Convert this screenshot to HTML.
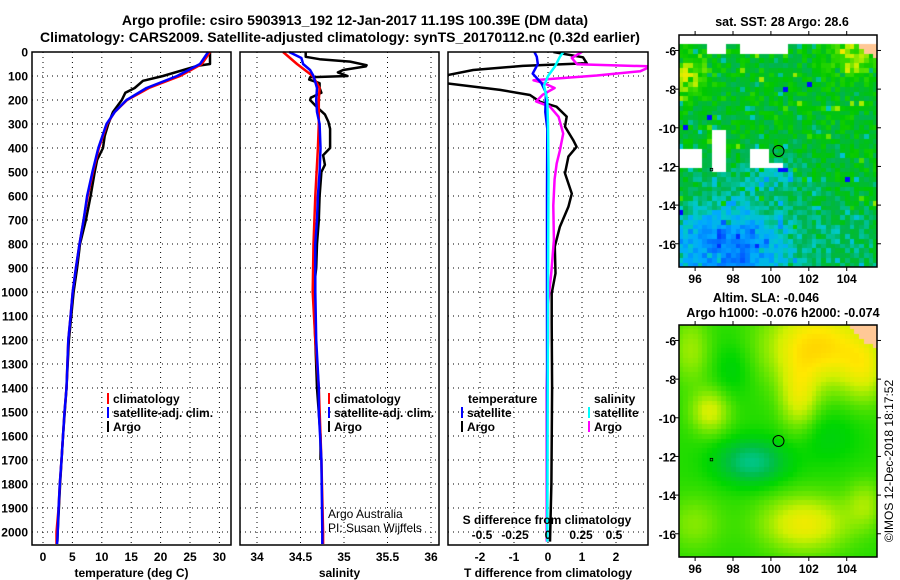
<!DOCTYPE html>
<html><head><meta charset="utf-8">
<style>
body{margin:0;background:#fff;}
#wrap{position:relative;width:900px;height:580px;overflow:hidden;font-family:"Liberation Sans",sans-serif;}
svg text{font-family:"Liberation Sans",sans-serif;}
canvas{position:absolute;}
</style></head>
<body>
<div id="wrap">
<canvas id="sst" width="198" height="232" style="left:679px;top:35px"></canvas>
<canvas id="sla" width="198" height="232" style="left:679px;top:325px"></canvas>
<svg id="svg" width="900" height="580" style="position:absolute;left:0;top:0"></svg>
</div>
<script>
// ---------- DATA ----------
const tempDepthSat=[0,50,100,150,200,250,300,400,500,600,700,800,900,1000,1100,1200,1400,1500,1600,1700,1800,1900,2000,2050];
const tempSat=[28.1,26.7,22.8,17.6,14.2,12.2,10.8,9.4,8.4,7.5,6.9,6.2,5.6,5.05,4.7,4.3,4.0,3.65,3.4,3.15,2.86,2.65,2.5,2.4];
const tempClim=[28.4,27.0,23.3,18.0,14.3,12.2,10.9,9.5,8.5,7.6,6.9,6.2,5.6,5.05,4.7,4.3,4.0,3.65,3.4,3.15,2.86,2.65,2.3,2.3];
const tempDepthArgo=[0,50,58,100,120,150,170,200,250,300,350,400,450,500,600,700,800,900,1000,1200,1400,1600,1800,2000,2040];
const tempArgo=[28.4,28.4,26.2,20.4,17.0,15.6,14.0,13.4,11.9,11.1,10.5,10.2,9.2,8.8,8.1,7.3,6.3,5.8,5.2,4.4,4.0,3.4,2.9,2.5,2.45];

const salDepthSat=[0,25,50,75,100,150,200,250,300,400,500,600,700,800,1000,1200,1400,1500,1700,2000,2050];
const salSat=[34.37,34.51,34.53,34.61,34.65,34.69,34.68,34.69,34.72,34.73,34.72,34.70,34.69,34.67,34.67,34.68,34.71,34.71,34.74,34.75,34.75];
const salDepthClim=[0,50,100,150,200,300,400,600,800,1000,1200,1400,1700,2000,2050];
const salClim=[34.30,34.46,34.64,34.72,34.71,34.71,34.70,34.67,34.65,34.64,34.67,34.71,34.74,34.76,34.76];
const salDepthArgo=[0,20,30,40,55,60,75,85,100,105,115,130,150,170,190,200,230,260,290,320,400,430,470,500,600,700,800,900,1000,1200,1400,1600,1700];
const salArgo=[34.56,34.56,34.72,35.07,35.26,35.25,34.99,34.93,35.04,34.61,34.60,34.72,34.72,34.74,34.62,34.61,34.69,34.78,34.82,34.84,34.84,34.76,34.78,34.74,34.72,34.71,34.69,34.68,34.65,34.67,34.69,34.73,34.73];

const dTDepthArgo=[0,22,47,58,75,103,130,158,179,207,228,269,311,367,395,436,506,590,645,728,811,922,1006,1131,1400,1800,2040];
const dTArgo=[0.16,1.03,1.14,-0.74,-2.2,-3.2,-3.0,-1.41,-0.53,-0.24,0.25,0.55,0.5,0.74,0.84,0.6,0.5,0.7,0.6,0.35,0.2,0.22,0.11,0.11,0.12,0.1,0.06];
const dTDepthSat=[0,20,50,90,130,170,250,320,600,1000,2040];
const dTSat=[-0.4,-0.33,-0.3,-0.45,-0.19,-0.06,-0.08,-0.02,-0.03,-0.03,-0.02];
const dSDepthSat=[0,20,60,100,140,200,300,500,1000,2040];
const dSSat=[0.116,0.09,0.053,0.0,-0.03,-0.005,0.0,0.004,0.0,-0.005];
const dSDepthArgo=[0,25,51,60,80,98,118,130,150,178,206,228,270,340,410,464,530,640,783,920,1050,1200,1400,2040];
const dSArgo=[0.255,0.18,0.22,0.78,0.7,0.37,-0.11,-0.03,0.05,-0.04,-0.09,0.015,0.08,0.115,0.09,0.066,0.05,0.04,0.045,0.025,0.0,0.0,-0.01,-0.01];

const depthTicks=[0,100,200,300,400,500,600,700,800,900,1000,1100,1200,1300,1400,1500,1600,1700,1800,1900,2000];
const tempTicks=[0,5,10,15,20,25,30];
const salTicks=[34,34.5,35,35.5,36];
const dTTicks=[-2,-1,0,1,2];
const dSTicks=[-0.5,-0.25,0,0.25,0.5];
const dSTickLabels=["-0.5","-0.25","0","0.25","0.5"];
const lonTicks=[96,98,100,102,104];
const latTicks=[-6,-8,-10,-12,-14,-16];
const argoLon=100.4, argoLat=-11.2;

// ---------- SCALES ----------
const yD=d=>52+d*0.24;
const xT=t=>43+t*5.88;
const xS=s=>257+(s-34)*87;
const xdT=v=>548+v*34;
const xdS=v=>548+v*132;
const P1={l:32,r:231},P2={l:240,r:439},P3={l:448,r:648};
const PT=52,PB=545;
const mapX=lon=>(lon-95.15)*18.95;
const mapY=lat=>(-5.2-lat)*19.33;

const NS="http://www.w3.org/2000/svg";
const svg=document.getElementById('svg');
function el(tag,attrs,parent){const e=document.createElementNS(NS,tag);for(const k in attrs)e.setAttribute(k,attrs[k]);(parent||svg).appendChild(e);return e;}
function txt(s,x,y,opt,parent){const e=el('text',Object.assign({x:x,y:y,'font-size':12,'font-weight':'bold',fill:'#000'},opt||{}),parent);e.textContent=s;return e;}

const defs=el('defs',{});
const cp=el('clipPath',{id:'c3'},defs);
el('rect',{x:P3.l,y:PT,width:P3.r-P3.l,height:PB-PT},cp);

let t=txt('Argo profile: csiro 5903913_192 12-Jan-2017 11.19S 100.39E (DM data)',355,25,{'font-size':14,'text-anchor':'middle'});


t=txt('Climatology: CARS2009. Satellite-adjusted climatology: synTS_20170112.nc (0.32d earlier)',340,42,{'font-size':14,'text-anchor':'middle'});



function panel(P,name,xs,xticks,xlabels,title){
  const g=el('g',{});
  
  
  depthTicks.forEach(d=>{el('line',{x1:P.l,x2:P.r,y1:yD(d),y2:yD(d),stroke:'#000','stroke-width':1,'stroke-dasharray':'1,4'},g);});
  xticks.forEach((v,i)=>{const x=xs(v);el('line',{x1:x,x2:x,y1:PT,y2:PB,stroke:'#000','stroke-width':1,'stroke-dasharray':'1,4'},g);
    const lb=txt(xlabels?xlabels[i]:String(v),x,561,{'text-anchor':'middle'},g);
    
    });
  const tt=txt(title,(P.l+P.r)/2,577,{'text-anchor':'middle'},g);
  
  
  return g;
}
panel(P1,'temperature-panel',xT,tempTicks,null,'temperature (deg C)');
panel(P2,'salinity-panel',xS,salTicks,null,'salinity');
panel(P3,'difference-panel',xdT,dTTicks,null,'T difference from climatology');

depthTicks.forEach(d=>{const l=txt(String(d),28,yD(d)+4.5,{'text-anchor':'end'});
  
  });

function line(depths,vals,xs,color,name,clip){
  const pts=depths.map((d,i)=>xs(vals[i]).toFixed(1)+','+yD(d).toFixed(1)).join(' ');
  const a={points:pts,fill:'none',stroke:color,'stroke-width':2.5,'stroke-linejoin':'round'};
  if(clip)a['clip-path']='url(#c3)';
  const p=el('polyline',a);
  
  
}
line(tempDepthArgo,tempArgo,xT,'#000','temp-argo-line');
line(tempDepthSat,tempClim,xT,'#f00','temp-climatology-line');
line(tempDepthSat,tempSat,xT,'#00f','temp-satellite-line');
line(salDepthArgo,salArgo,xS,'#000','sal-argo-line');
line(salDepthClim,salClim,xS,'#f00','sal-climatology-line');
line(salDepthSat,salSat,xS,'#00f','sal-satellite-line');
line(dTDepthArgo,dTArgo,xdT,'#000','tdiff-argo-line',true);
line(dSDepthArgo,dSArgo,xdS,'#f0f','sdiff-argo-line',true);
line(dTDepthSat,dTSat,xdT,'#00f','tdiff-satellite-line',true);
line(dSDepthSat,dSSat,xdS,'#0ff','sdiff-satellite-line',true);

[P1,P2,P3].forEach(P=>{const r=el('rect',{x:P.l,y:PT,width:P.r-P.l,height:PB-PT,fill:'none',stroke:'#000','stroke-width':1.5});
  
  });

function leg(x,y,color,label){
  const g=el('g',{});
  
  
  el('line',{x1:x,x2:x,y1:y-10,y2:y+1,stroke:color,'stroke-width':2},g);
  txt(label,x+5,y,{},g);
}
leg(108,403,'#f00','climatology');leg(108,417,'#00f','satellite-adj. clim.');leg(108,431,'#000','Argo');
leg(329,403,'#f00','climatology');leg(329,417,'#00f','satellite-adj. clim.');leg(329,431,'#000','Argo');
t=txt('temperature',468,403);
leg(462,417,'#00f','satellite');leg(462,431,'#000','Argo');
t=txt('salinity',594,403);
leg(589,417,'#0ff','satellite');leg(589,431,'#f0f','Argo');

t=txt('Argo Australia',328,518,{'font-weight':'normal'});
t=txt('PI: Susan Wijffels',328,532,{'font-weight':'normal'});
t=txt('S difference from climatology',547,524,{'text-anchor':'middle'});
dSTicks.forEach((v,i)=>{const l=txt(dSTickLabels[i],xdS(v),539,{'text-anchor':'middle'});
  
  });

function mapAxes(top,name){
  const L=679,R=877,T=top,B=top+232;
  const g=el('g',{});
  
  
  el('rect',{x:L,y:T,width:R-L,height:B-T,fill:'none',stroke:'#000','stroke-width':1.5},g);
  lonTicks.forEach(v=>{const x=L+mapX(v);el('line',{x1:x,x2:x,y1:T-4,y2:T,stroke:'#000'},g);el('line',{x1:x,x2:x,y1:B,y2:B+4,stroke:'#000'},g);
    txt(String(v),x,B+16,{'text-anchor':'middle'},g);});
  latTicks.forEach(v=>{const y=T+mapY(v);el('line',{x1:L-4,x2:L,y1:y,y2:y,stroke:'#000'},g);el('line',{x1:R,x2:R+4,y1:y,y2:y,stroke:'#000'},g);
    txt(String(v),676,y+5,{'text-anchor':'end'},g);});
  el('circle',{cx:L+mapX(argoLon),cy:T+mapY(argoLat),r:5.5,fill:'none',stroke:'#000','stroke-width':1},g);
  el('rect',{x:L+mapX(96.85)-1,y:T+mapY(-12.15)-1,width:2.5,height:2.5,fill:'none',stroke:'#000','stroke-width':0.8},g);
}
mapAxes(35,'sst-map-axes');
mapAxes(325,'sla-map-axes');
t=txt('sat. SST: 28 Argo: 28.6',782,26,{'text-anchor':'middle','font-size':12.5});
t=txt('Altim. SLA: -0.046',766,302,{'text-anchor':'middle','font-size':12.5});
t=txt('Argo h1000: -0.076 h2000: -0.074',783,317,{'text-anchor':'middle','font-size':12.5});
t=txt('©IMOS 12-Dec-2018 18:17:52',0,0,{'font-weight':'normal','text-anchor':'middle','transform':'translate(893,461) rotate(-90)'});


// ---------- MAP RASTERS ----------
function hash(i,j){let h=(i*374761393+j*668265263)>>>0;h=((h^(h>>>13))*1274126177)>>>0;return ((h^(h>>>16))>>>0)/4294967296;}
function cmap(v,stops){for(let k=1;k<stops.length;k++){if(v<=stops[k][0]){const a=stops[k-1],b=stops[k];const f=(v-a[0])/(b[0]-a[0]);
  return 'rgb('+[1,2,3].map(c=>Math.round(a[c]+(b[c]-a[c])*f)).join(',')+')';}}const s=stops[stops.length-1];return 'rgb('+s[1]+','+s[2]+','+s[3]+')';}
const stopsSST=[[0,0,0,255],[0.18,0,110,255],[0.3,0,170,255],[0.4,0,200,200],[0.5,0,180,80],[0.6,0,200,0],[0.7,60,220,0],[0.8,200,240,0],[0.9,255,230,0],[1,255,150,0]];
const stopsSLA=[[0.4,0,200,160],[0.5,0,190,70],[0.6,0,215,0],[0.7,120,232,0],[0.78,210,240,0],[0.86,255,232,0],[0.95,255,190,0]];
function g2(lon,lat,cx,cy,sx,sy){return Math.exp(-((lon-cx)*(lon-cx)/sx+(lat-cy)*(lat-cy)/sy));}
const gaps=[[95.15,105.6,-5.2,-5.7],[96.6,97.6,-5.7,-6.3],[98.3,101,-5.7,-6.3],[96.8,97.6,-10.2,-12.3],[95.15,96.3,-11.2,-12.1],[98.8,99.8,-11.2,-12.1],[99.6,100.6,-11.8,-12.0]];
(function(){
  const c=document.getElementById('sst').getContext('2d');
  const cs=4.75;
  for(let j=0;j<49;j++)for(let i=0;i<42;i++){
    const lon=95.15+(i+0.5)*cs/18.95, lat=-5.2-(j+0.5)*cs/19.33;
    let gap=false;for(const g of gaps)if(lon>=g[0]&&lon<=g[1]&&lat<=g[2]&&lat>=g[3])gap=true;
    if(gap){c.fillStyle='#fff';}
    else if(lon>104+(lat+5.2)*-1.2&&lat>-6.8){c.fillStyle='#ffc896';}
    else{
      let v=0.56+(hash(i,j)-0.5)*0.14;
      v-=0.36*g2(lon,lat,97.8,-16.3,12,6);
      v-=0.12*g2(lon,lat,100,-12.5,3,1);
      v-=0.08*g2(lon,lat,104,-15.5,3,3);
      v+=0.25*g2(lon,lat,95.6,-7.3,1.2,1);
      v+=0.2*g2(lon,lat,104.3,-6.5,1.5,1);
      if(hash(j,i+7)>0.996)v=0.02;
      if(hash(i+3,j*2)>0.97)v+=0.15;
      if(hash(i*5+1,j+11)>0.93)v-=0.12;
      c.fillStyle=cmap(Math.max(0,Math.min(1,v)),stopsSST);
    }
    c.fillRect(Math.floor(i*cs),Math.floor(j*cs),Math.ceil(cs)+1,Math.ceil(cs)+1);
  }
})();
(function(){
  const c=document.getElementById('sla').getContext('2d');
  const cs=4.75;
  for(let j=0;j<49;j++)for(let i=0;i<42;i++){
    const lon=95.15+(i+0.5)*cs/18.95, lat=-5.2-(j+0.5)*cs/19.33;
    if(lon>104+(lat+5.2)*-1.2&&lat>-6.8){c.fillStyle='#ffc896';}
    else{
      let v=0.63;
      v+=0.26*g2(lon,lat,102.5,-6.3,7,4);
      v+=0.14*g2(lon,lat,105,-7.5,1.5,3);
      v+=0.16*g2(lon,lat,101.5,-9.0,1,3);
      v+=0.16*g2(lon,lat,96.8,-9.7,1,1.2);
      v+=0.1*g2(lon,lat,95.8,-6.5,1,3);
      v+=0.2*g2(lon,lat,101.8,-15.5,5,2);
      v+=0.1*g2(lon,lat,105,-14.5,1,1.5);
      v+=0.08*g2(lon,lat,96,-15.5,2,2);
      v-=0.2*g2(lon,lat,99,-12.3,3,1.2);
      v-=0.05*g2(lon,lat,98,-7.5,1,2);
      v-=0.05*g2(lon,lat,103,-11,3,2);
      c.fillStyle=cmap(v,stopsSLA);
    }
    c.fillRect(Math.floor(i*cs),Math.floor(j*cs),Math.ceil(cs)+1,Math.ceil(cs)+1);
  }
})();
</script>
</body></html>
